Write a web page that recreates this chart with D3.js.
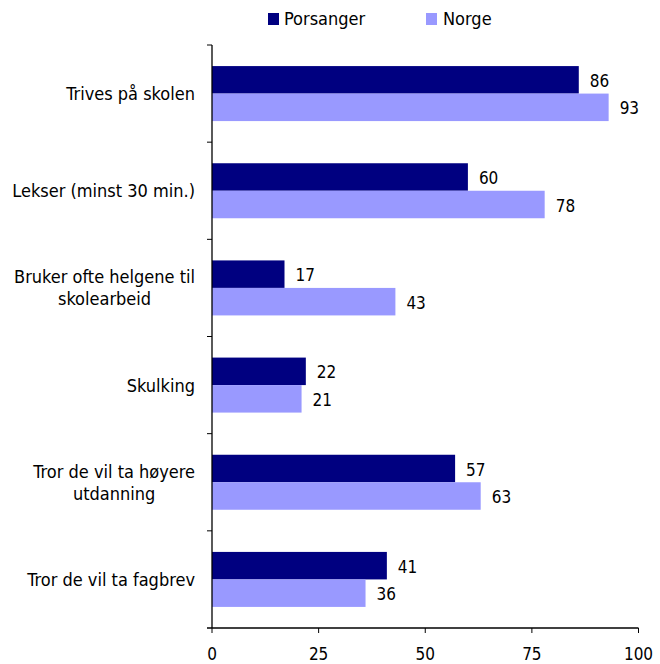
<!DOCTYPE html>
<html><head><meta charset="utf-8">
<script src="https://cdn.jsdelivr.net/npm/d3@7"></script>
<style>body{margin:0;background:#fff;} svg{display:block;font-family:"DejaVu Sans Condensed","DejaVu Sans",sans-serif;}</style>
</head><body>
<script>
const categories = [["Trives på skolen"],["Lekser (minst 30 min.)"],["Bruker ofte helgene til","skolearbeid"],["Skulking"],["Tror de vil ta høyere","utdanning"],["Tror de vil ta fagbrev"]];
const seriesNames = ["Porsanger","Norge"];
const porsanger = [86,60,17,22,57,41];
const norge = [93,78,43,21,63,36];
const xTicks = [0,25,50,75,100];
const colors = ["#000080","#9999FF"];

const W=660,H=664;
const svg=d3.select("body").append("svg").attr("width",W).attr("height",H);
const x=d3.scaleLinear().domain([0,100]).range([212,638.5]);
const y=d3.scaleBand().domain(d3.range(categories.length)).range([45,628]);
const sub=d3.scaleBand().domain([0,1]).range([0,55]);
const off=(y.bandwidth()-55)/2;

const series=[porsanger,norge];
series.forEach((vals,si)=>{
  svg.append("g").selectAll("rect").data(vals).join("rect")
    .attr("x",x(0)).attr("y",(d,i)=>y(i)+off+sub(si))
    .attr("width",d=>x(d)-x(0)).attr("height",sub.bandwidth())
    .attr("fill",colors[si]);
  svg.append("g").selectAll("text").data(vals).join("text")
    .attr("x",d=>x(d)+11).attr("y",(d,i)=>y(i)+off+sub(si)+sub.bandwidth()/2+1)
    .attr("dy","0.36em").attr("font-size",17).attr("fill","#000").text(d=>d);
});

// y axis
const ya=svg.append("g").attr("transform",`translate(${x(0)},0)`);
ya.append("line").attr("y1",45).attr("y2",628).attr("stroke","#000").attr("stroke-width",1.3);
ya.selectAll("line.t").data(d3.range(categories.length)).join("line").attr("class","t")
  .attr("x1",-5).attr("x2",0).attr("y1",i=>y(i)).attr("y2",i=>y(i)).attr("stroke","#000");
// category labels (block right-aligned, lines centered)
categories.forEach((lines,i)=>{
  const cy=y(i)+y.bandwidth()/2;
  const t=svg.append("text").attr("text-anchor","middle").attr("font-size",18).attr("fill","#000");
  const spans=lines.map((l,k)=>t.append("tspan").attr("y",cy+(k-(lines.length-1)/2)*22).attr("dy","0.36em").text(l));
  const maxW=d3.max(spans,s=>s.node().getComputedTextLength());
  const cx=195-maxW/2;
  spans.forEach(s=>s.attr("x",cx));
});

// x axis
const xa=svg.append("g").attr("transform","translate(0,628)");
xa.append("line").attr("x1",207).attr("x2",x(100)).attr("stroke","#000").attr("stroke-width",1.3);
xa.selectAll("line.t").data(xTicks).join("line").attr("class","t")
  .attr("x1",d=>x(d)).attr("x2",d=>x(d)).attr("y1",0).attr("y2",5).attr("stroke","#000");
xa.selectAll("text").data(xTicks).join("text")
  .attr("x",d=>x(d)).attr("y",32).attr("text-anchor","middle").attr("font-size",17).attr("fill","#000").text(d=>d);

// legend
const lg=[[268,284],[426,443]];
seriesNames.forEach((n,i)=>{
  svg.append("rect").attr("x",lg[i][0]).attr("y",13).attr("width",11).attr("height",12).attr("fill",colors[i]);
  svg.append("text").attr("x",lg[i][1]).attr("y",19).attr("dy","0.36em").attr("font-size",18).attr("fill","#000").text(n);
});
</script>
</body></html>
